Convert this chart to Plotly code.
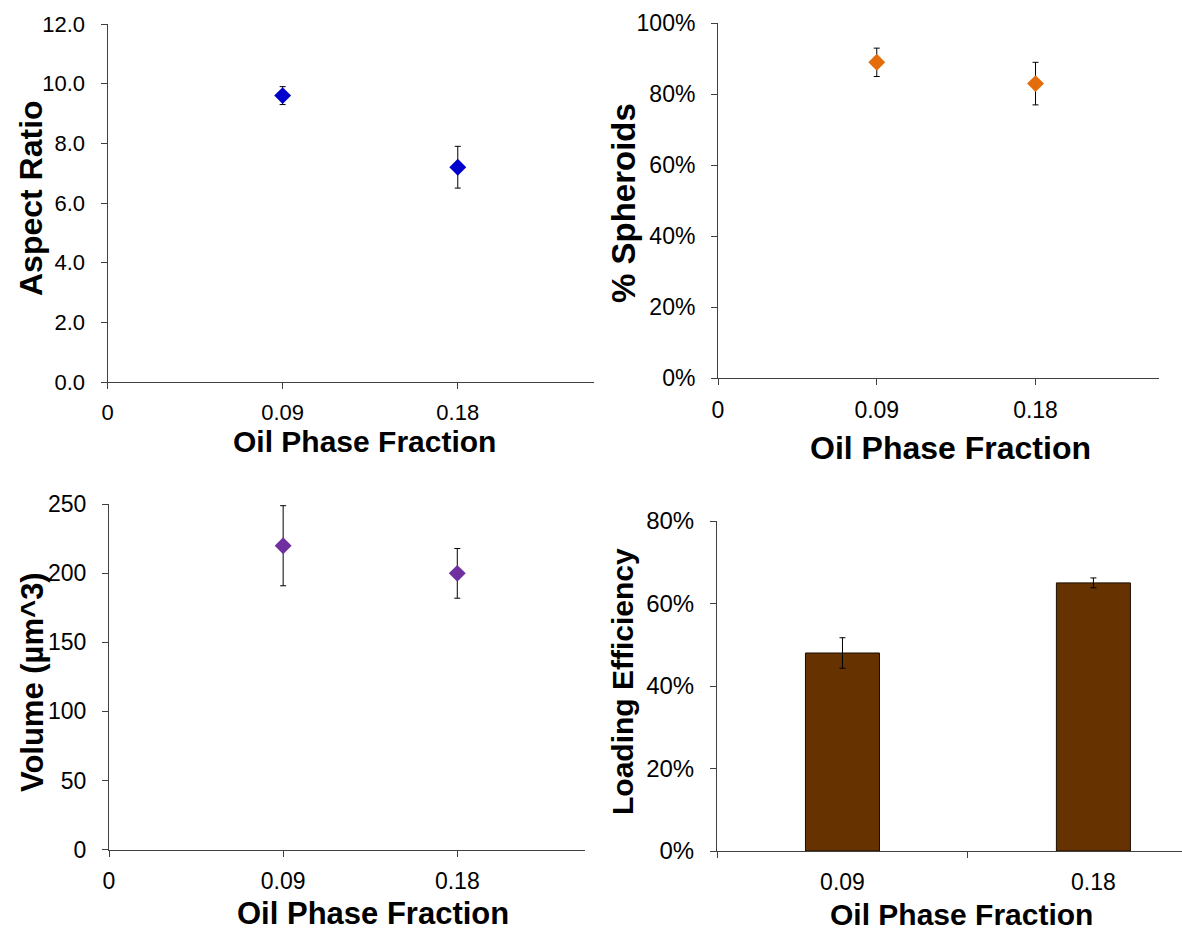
import plotly.graph_objects as go

# ---------------- data ----------------
oil_fraction = [0.09, 0.18]
oil_labels = ["0.09", "0.18"]

aspect_ratio = [9.6, 7.2]
aspect_ratio_err = [0.3, 0.7]

pct_spheroids = [0.89, 0.83]
pct_spheroids_err = [0.04, 0.06]

volume = [220, 200]
volume_err = [29, 18]

loading_eff = [0.48, 0.65]
loading_eff_err = [0.037, 0.012]

x_tickvals = [0, 0.09, 0.18]
x_ticktext = ["0", "0.09", "0.18"]

# ---------------- layout helpers ----------------
W, H = 1182, 932
FONT = "Arial, Liberation Sans, sans-serif"
AXCOL = "#404040"


def xd(a, b):
    return [a / W, b / W]


def yd(top, bottom):
    return [1 - bottom / H, 1 - top / H]


def tf(size):
    return dict(family=FONT, size=size, color="#000000")


fig = go.Figure()

err_style = dict(type="data", color="#000000", thickness=1, width=3, visible=True)

fig.add_trace(go.Scatter(
    x=oil_fraction, y=aspect_ratio, mode="markers",
    marker=dict(symbol="diamond", size=13, color="#0000CC"),
    error_y=dict(array=aspect_ratio_err, **err_style),
    xaxis="x", yaxis="y"))

fig.add_trace(go.Scatter(
    x=oil_fraction, y=pct_spheroids, mode="markers",
    marker=dict(symbol="diamond", size=13, color="#E46C0A"),
    error_y=dict(array=pct_spheroids_err, **err_style),
    xaxis="x2", yaxis="y2"))

fig.add_trace(go.Scatter(
    x=oil_fraction, y=volume, mode="markers",
    marker=dict(symbol="diamond", size=13, color="#7030A0"),
    error_y=dict(array=volume_err, **err_style),
    xaxis="x3", yaxis="y3"))

fig.add_trace(go.Bar(
    x=oil_labels, y=loading_eff, width=0.295,
    marker=dict(color="#663300", line=dict(color="#1a0d00", width=1)),
    error_y=dict(array=loading_eff_err, **err_style),
    xaxis="x4", yaxis="y4"))

base_ax = dict(showgrid=False, zeroline=False, showline=True, linecolor=AXCOL,
               linewidth=1, ticks="outside", ticklen=6, tickcolor=AXCOL,
               tickwidth=1, fixedrange=True, automargin=False)

fig.update_layout(
    width=W, height=H,
    margin=dict(l=0, r=0, t=0, b=0, autoexpand=False),
    paper_bgcolor="white", plot_bgcolor="white",
    showlegend=False,
    font=dict(family=FONT, color="#000000"),
    xaxis=dict(base_ax, domain=xd(107.5, 594), range=[0, 0.25],
               tickvals=x_tickvals, ticktext=x_ticktext, anchor="y",
               ticklabelstandoff=5, tickfont=tf(22)),
    yaxis=dict(base_ax, domain=yd(24, 382), range=[0, 12], dtick=2,
               tickformat=".1f", anchor="x", ticklabelstandoff=11,
               tickfont=tf(22)),
    xaxis2=dict(base_ax, domain=xd(718, 1159), range=[0, 0.25],
                tickvals=x_tickvals, ticktext=x_ticktext, anchor="y2",
                ticklabelstandoff=5, tickfont=tf(23)),
    yaxis2=dict(base_ax, domain=yd(23.3, 378), range=[0, 1], dtick=0.2,
                tickformat=".0%", anchor="x2", ticklabelstandoff=11,
                tickfont=tf(23)),
    xaxis3=dict(base_ax, domain=xd(109, 585), range=[0, 0.246],
                tickvals=x_tickvals, ticktext=x_ticktext, anchor="y3",
                ticklabelstandoff=5, tickfont=tf(23)),
    yaxis3=dict(base_ax, domain=yd(504.3, 849.5), range=[0, 250], dtick=50,
                anchor="x3", ticklabelstandoff=11, tickfont=tf(23)),
    xaxis4=dict(base_ax, domain=xd(717, 1182), range=[-0.5, 1.353],
                type="category", tickson="boundaries", anchor="y4",
                ticklabelstandoff=10, tickfont=tf(23)),
    yaxis4=dict(base_ax, domain=yd(521, 851), range=[0, 0.8], dtick=0.2,
                tickformat=".0%", anchor="x4", ticklabelstandoff=11,
                tickfont=tf(24)),
)

# axis titles as annotations (pixel-placed)
titles = [
    ("Oil Phase Fraction", 364, 441, 0, 30),
    ("Oil Phase Fraction", 950, 448, 0, 32),
    ("Oil Phase Fraction", 373, 913, 0, 31),
    ("Oil Phase Fraction", 961, 914, 0, 30),
    ("Aspect Ratio", 31, 198, -90, 32),
    ("% Spheroids", 623, 203, -90, 33),
    ("Volume (µm^3)", 32, 682, -90, 31),
    ("Loading Efficiency", 622, 681, -90, 30),
]
for text, px, py, ang, size in titles:
    fig.add_annotation(
        text="<b>%s</b>" % text, x=px / W, y=1 - py / H,
        xref="paper", yref="paper", showarrow=False, textangle=ang,
        xanchor="center", yanchor="middle",
        font=dict(family=FONT, size=size, color="#000000"))

fig.write_html("out.html")
